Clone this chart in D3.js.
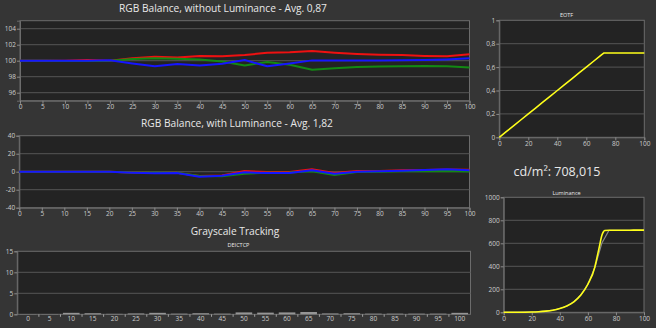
<!DOCTYPE html>
<html>
<head>
<meta charset="utf-8">
<script src="https://cdn.jsdelivr.net/npm/d3@7"></script>
<style>
  html, body { margin: 0; padding: 0; background: #353535; }
  svg { display: block; font-family: "Open Sans", "Noto Sans", sans-serif; }
</style>
</head>
<body>
<svg id="chart" width="656" height="328"></svg>
<script>
// ---- data -------------------------------------------------------------
const steps = [0, 5, 10, 15, 20, 25, 30, 35, 40, 45, 50, 55, 60, 65, 70, 75, 80, 85, 90, 95, 100];

// RGB balance without luminance (%)
const redNoLum   = [100, 100, 100, 100.1, 100, 100.3, 100.5, 100.4, 100.6, 100.55, 100.7, 101.0, 101.05, 101.2, 101.0, 100.85, 100.75, 100.7, 100.6, 100.55, 100.8];
const greenNoLum = [100, 100, 99.95, 99.95, 100, 100.2, 100.3, 100.25, 100.15, 99.9, 99.4, 99.85, 99.5, 98.86, 99.06, 99.22, 99.27, 99.3, 99.35, 99.3, 99.14];
const blueNoLum  = [100, 100, 100, 100, 100.05, 99.65, 99.3, 99.6, 99.4, 99.63, 100.08, 99.3, 99.65, 100.04, 100.04, 100.04, 100.04, 100.05, 100.08, 100.16, 100.3];

// RGB balance with luminance
const redLum   = [0, 0, 0, 0, 0, -0.8, -1.5, -1.3, -4.8, -4.2, 0.7, -0.4, -0.4, 2.6, -1.5, 0.7, 0.8, 1.5, 2.0, 2.4, 2.2];
const greenLum = [0, 0, 0, 0, 0, -0.8, -1.2, -1.2, -4.8, -5.0, -2.2, -1.2, -1.0, 0.4, -3.7, -0.4, -0.1, 0.4, 0.6, 0.7, 0.2];
const blueLum  = [0, 0, 0, 0, 0, -1.1, -1.8, -1.5, -5.5, -4.4, -0.7, -1.5, -1.4, 1.5, -2.2, 0, 0.4, 1.1, 1.8, 2.6, 1.5];

// Grayscale tracking, ΔICtCp per step
const deltaICtCp = [0.05, 0.05, 0.35, 0.25, 0.1, 0.2, 0.35, 0.15, 0.25, 0.15, 0.45, 0.4, 0.45, 0.55, 0.2, 0.25, 0.15, 0.15, 0.15, 0.15, 0.35];

// EOTF (signal in / signal out)
const eotfIn  = [0, 5, 10, 15, 20, 25, 30, 35, 40, 45, 50, 55, 60, 65, 70, 72, 75, 80, 85, 90, 95, 100];
const eotfOut = [0, 0.05, 0.10, 0.15, 0.20, 0.25, 0.30, 0.35, 0.40, 0.45, 0.50, 0.55, 0.60, 0.65, 0.70, 0.72, 0.72, 0.72, 0.72, 0.72, 0.72, 0.72];

// Luminance (cd/m²), measured and target
const lumIn  = [0, 5, 10, 15, 20, 25, 30, 35, 40, 45, 50, 55, 60, 65, 66, 68, 70, 71, 72, 75, 80, 85, 90, 95, 100];
const lumOut = [0, 0.06, 0.3, 1, 2.4, 5.2, 10, 18.4, 33, 55, 90, 150, 244, 395, 450, 560, 670, 698, 711, 713, 713, 714, 714, 715, 715];
const lumTarget = [0, 0.07, 0.32, 1.0, 2.4, 5.2, 10, 18.4, 33, 55, 92, 151, 244, 391, 603, 712, 712, 712, 712, 712, 712];

const maxLuminance = "708,015";

// ---- style ------------------------------------------------------------
const C = {
  plot: "#232323", frame: "#6c6c6c", grid: "#565656",
  tick: "#cccccc", title: "#e8e8e8",
  red: "#ee1111", green: "#138a13", blue: "#1515ff", yellow: "#ffff1a",
  target: "#8a8a8a", bar: "#959595"
};
const comma = d => String(d).replace(".", ",");
const svg = d3.select("#chart");

function styleAxis(g) {
  g.select(".domain").attr("stroke", C.frame);
  g.selectAll(".tick line").attr("stroke", "#8a8a8a");
  g.selectAll(".tick text").attr("fill", C.tick).attr("font-size", 6.5);
  g.attr("font-family", null).attr("font-size", null);
}

// plot background, horizontal grid, y axis
function plotFrame(x, y, yTicks, fmt) {
  const [x0, x1] = x.range();
  const [yb, yt] = y.range();
  svg.append("rect")
    .attr("x", x0).attr("y", yt).attr("width", x1 - x0).attr("height", yb - yt)
    .attr("fill", C.plot).attr("stroke", C.frame).attr("stroke-width", 1);
  svg.append("g").selectAll("line")
    .data(yTicks.filter(v => y(v) > yt + 0.5 && y(v) < yb - 0.5))
    .join("line")
    .attr("x1", x0).attr("x2", x1)
    .attr("y1", d => y(d)).attr("y2", d => y(d))
    .attr("stroke", C.grid).attr("stroke-width", 1);
  svg.append("g")
    .attr("transform", `translate(${x0},0)`)
    .call(d3.axisLeft(y).tickValues(yTicks).tickFormat(fmt).tickSize(3).tickPadding(1))
    .call(styleAxis);
}

function linearXAxis(x, y, ticks) {
  svg.append("g")
    .attr("transform", `translate(0,${y.range()[0]})`)
    .call(d3.axisBottom(x).tickValues(ticks).tickSize(3).tickPadding(1))
    .call(styleAxis);
}

function series(x, y, xs, ys, color, width) {
  svg.append("path")
    .datum(xs.map((v, i) => [v, ys[i]]))
    .attr("fill", "none").attr("stroke", color).attr("stroke-width", width)
    .attr("stroke-linejoin", "round")
    .attr("d", d3.line().x(d => x(d[0])).y(d => y(d[1])));
}

function title(text, cx, baseline, size) {
  svg.append("text")
    .attr("x", cx).attr("y", baseline).attr("text-anchor", "middle")
    .attr("fill", C.title).attr("font-size", size).text(text);
}

// ---- RGB balance, without luminance ------------------------------------
{
  const x = d3.scaleLinear().domain([0, 100]).range([20, 469.5]);
  const y = d3.scaleLinear().domain([95, 105]).range([100.7, 20.7]);
  plotFrame(x, y, [96, 98, 100, 102, 104], d => d);
  linearXAxis(x, y, steps);
  series(x, y, steps, redNoLum, C.red, 2);
  series(x, y, steps, greenNoLum, C.green, 2);
  series(x, y, steps, blueNoLum, C.blue, 2);
  title("RGB Balance, without Luminance - Avg. 0,87", 223, 12, 10.2);
}

// ---- RGB balance, with luminance ----------------------------------------
{
  const x = d3.scaleLinear().domain([0, 100]).range([19.3, 469.5]);
  const y = d3.scaleLinear().domain([-40, 40]).range([207.7, 135.7]);
  plotFrame(x, y, [-40, -20, 0, 20, 40], d => d);
  linearXAxis(x, y, steps);
  series(x, y, steps, redLum, C.red, 2);
  series(x, y, steps, greenLum, C.green, 2);
  series(x, y, steps, blueLum, C.blue, 2);
  title("RGB Balance, with Luminance - Avg. 1,82", 237, 127.3, 10.2);
}

// ---- Grayscale tracking --------------------------------------------------
{
  const x = d3.scaleBand().domain(steps).range([17.3, 470.5]).paddingInner(0.23).paddingOuter(0.115);
  const y = d3.scaleLinear().domain([0, 15]).range([314.3, 251.3]);
  const xr = d3.scaleLinear().range(x.range());
  plotFrame(xr, y, [0, 5, 10, 15], d => d);
  svg.append("g").selectAll("rect")
    .data(steps.map((s, i) => ({ s, v: deltaICtCp[i] })))
    .join("rect")
    .attr("x", d => x(d.s)).attr("width", x.bandwidth())
    .attr("y", d => y(d.v)).attr("height", d => y(0) - y(d.v))
    .attr("fill", C.bar);
  // boundary ticks between categories
  const step = x.step();
  svg.append("g").selectAll("line")
    .data(d3.range(1, steps.length))
    .join("line")
    .attr("x1", i => x.range()[0] + i * step).attr("x2", i => x.range()[0] + i * step)
    .attr("y1", y(0)).attr("y2", y(0) + 2.5)
    .attr("stroke", "#a0a0a0");
  svg.append("g")
    .attr("transform", `translate(0,${y(0)})`)
    .call(d3.axisBottom(x).tickSize(0).tickPadding(2.5))
    .call(styleAxis)
    .call(g => g.select(".domain").remove());
  title("Grayscale Tracking", 235, 234.7, 10.2);
  title("DEICTCP", 238.5, 247.3, 5.5);
}

// ---- EOTF -----------------------------------------------------------------
{
  const x = d3.scaleLinear().domain([0, 100]).range([499.3, 644.3]);
  const y = d3.scaleLinear().domain([0, 1]).range([137.3, 20.3]);
  plotFrame(x, y, [0, 0.2, 0.4, 0.6, 0.8, 1], comma);
  linearXAxis(x, y, [0, 20, 40, 60, 80, 100]);
  series(x, y, eotfIn, eotfOut, C.yellow, 1.6);
  title("EOTF", 566.5, 17, 5.5);
}

svg.append("text")
  .attr("x", 557).attr("y", 175.7).attr("text-anchor", "middle")
  .attr("fill", C.title).attr("font-size", 12.5)
  .text("cd/m²: " + maxLuminance);

// ---- Luminance -----------------------------------------------------------
{
  const x = d3.scaleLinear().domain([0, 100]).range([503.7, 644]);
  const y = d3.scaleLinear().domain([0, 1000]).range([312.3, 197.3]);
  plotFrame(x, y, [0, 200, 400, 600, 800, 1000], d => d);
  linearXAxis(x, y, [0, 20, 40, 60, 80, 100]);
  series(x, y, steps, lumTarget, C.target, 1.2);
  svg.append("path")
    .datum(lumIn.map((v, i) => [v, lumOut[i]]))
    .attr("fill", "none").attr("stroke", C.yellow).attr("stroke-width", 1.6)
    .attr("d", d3.line().curve(d3.curveMonotoneX).x(d => x(d[0])).y(d => y(d[1])));
  title("Luminance", 566.5, 194.7, 5.5);
}
</script>
</body>
</html>
